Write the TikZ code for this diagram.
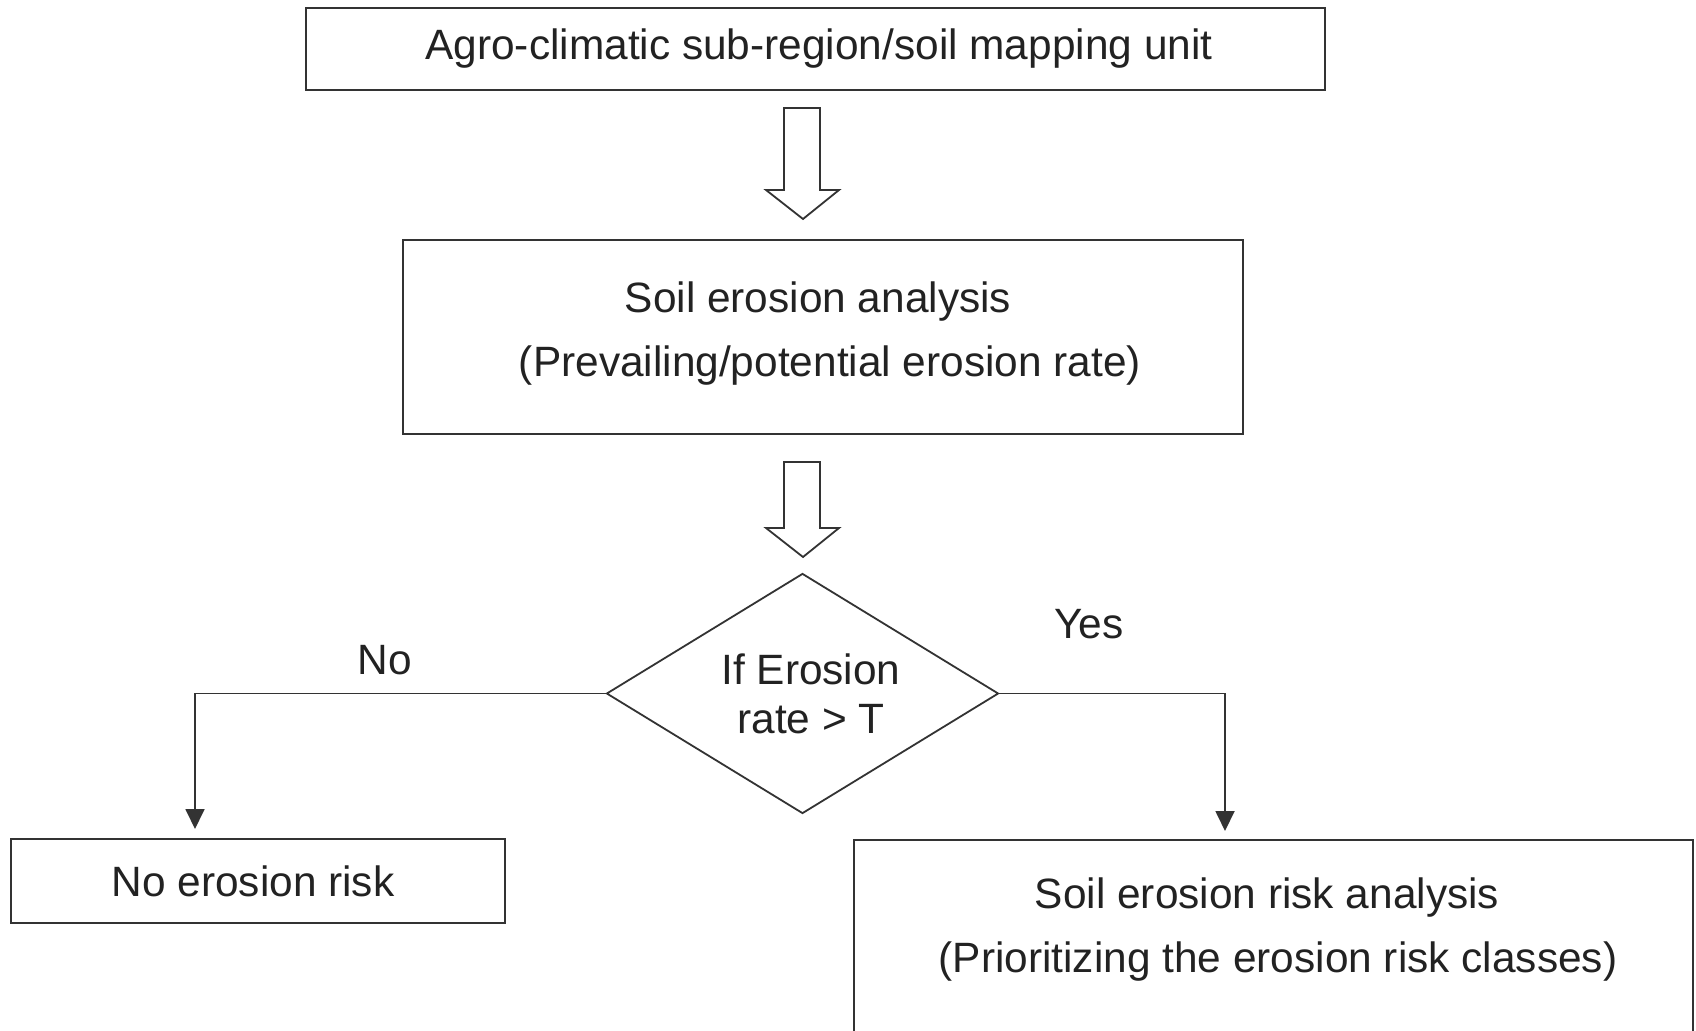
\documentclass[tikz,border=0pt]{standalone}
\usepackage{fontspec}
\setmainfont{Liberation Sans}
\usetikzlibrary{shapes.geometric,arrows.meta}
\definecolor{ln}{HTML}{333333}
\definecolor{tx}{HTML}{222222}
\begin{document}
\begin{tikzpicture}[x=1pt,y=-1pt,
  box/.style={draw=ln,line width=2pt,rectangle,inner sep=0pt},
  txt/.style={text=tx,font=\fontsize{42.4}{64}\selectfont,align=center,inner sep=0pt},
  lbl/.style={text=tx,font=\fontsize{42.4}{50}\selectfont,inner sep=0pt},
  hollow/.style={draw=ln,line width=1.8pt,fill=white,line join=miter},
  conn/.style={draw=ln,line width=1.8pt,-{Triangle[length=20pt,width=19pt]}}]
\clip (0,0) rectangle (1696,1030);
\fill[white] (0,0) rectangle (1696,1030);
% boxes
\node[box,minimum width=1019pt,minimum height=82pt] (b1) at (815.5,49) {};
\node[txt] (t1) at (819,49) {Agro-climatic sub-region/soil mapping unit};
\node[box,minimum width=840pt,minimum height=194pt] (b2) at (823,337) {};
\node[txt] (t2) at (830,334) {Soil erosion analysis\hspace*{24pt}\\(Prevailing/potential erosion rate)};
\node[diamond,draw=ln,line width=1.8pt,minimum width=392pt,minimum height=240pt,inner sep=0pt] (dia) at (802.5,693.5) {};
\node[txt,font=\fontsize{42.4}{49}\selectfont] (dt) at (811,694) {If Erosion\\rate > T};
\node[box,minimum width=494pt,minimum height=84pt] (b3) at (258,881) {};
\node[txt] (t3) at (253,881) {No erosion risk};
\node[box,minimum width=839pt,minimum height=230pt,anchor=north] (b4) at (1273.5,839) {};
\node[txt] (t4) at (1278,930) {Soil erosion risk analysis\hspace*{22pt}\\(Prioritizing the erosion risk classes)};
% hollow arrows
\draw[hollow] (784,108) -- (820,108) -- (820,190) -- (839,190) -- (803,219) -- (766,190) -- (784,190) -- cycle;
\draw[hollow] (784,462) -- (820,462) -- (820,528) -- (839,528) -- (803,557) -- (766,528) -- (784,528) -- cycle;
% connectors
\coordinate (nl) at (195,829);
\coordinate (yl) at (1225,831);
\draw[conn] (dia.west) -| (nl);
\draw[conn] (dia.east) -| (yl);
\node[lbl] (no) at (385,660) {No};
\node[lbl] (yes) at (1089,624) {Yes};
\end{tikzpicture}
\end{document}
